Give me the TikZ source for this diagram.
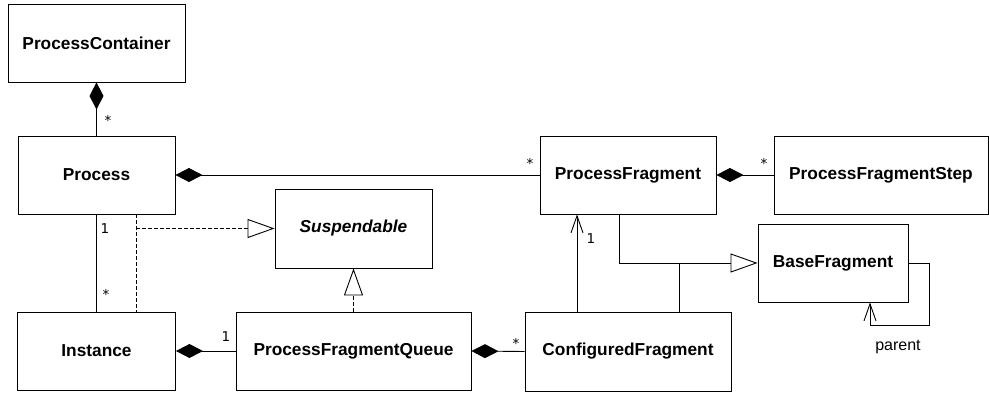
\documentclass[tikz,border=0pt]{standalone}
\usepackage{fontspec}
\setmainfont{Liberation Sans}
\newfontfamily\multfont{DejaVu Sans}
\usetikzlibrary{arrows.meta,calc}

\tikzset{
  cls/.style={draw=black, line width=0.9pt, fill=white, inner sep=0pt,
              font=\fontsize{17.3}{20}\selectfont\bfseries},
  link/.style={draw=black, line width=0.9pt},
  comp/.style={link, {Diamond[length=27pt,width=14pt,fill=black]}-},
  realize/.style={link, dash pattern=on 4pt off 2pt},
  realtip/.style={-{Triangle[open,length=27pt,width=19pt,fill=white]}},
  gentip/.style={-{Triangle[open,length=27pt,width=19pt,fill=white]}},
  navtip/.style={-{Straight Barb[length=17pt,width=12pt]}},
  mult/.style={inner sep=0pt, font=\multfont\fontsize{13.5}{15}\selectfont},
  role/.style={inner sep=0pt, font=\fontsize{16}{19}\selectfont}
}

\begin{document}
\begin{tikzpicture}[x=1pt,y=-1pt]
\useasboundingbox (0,0) rectangle (989,394);

% classes
\node[cls, minimum width=177pt, minimum height=78pt] (pc)   at (96.5,43)   {ProcessContainer};
\node[cls, minimum width=157pt, minimum height=78pt] (proc) at (96.5,175)  {Process};
\node[cls, minimum width=176pt, minimum height=78pt] (pf)   at (628,175)   {ProcessFragment};
\node[cls, minimum width=214pt, minimum height=78pt] (pfs)  at (881,175)   {ProcessFragmentStep};
\node[cls, minimum width=157pt, minimum height=79pt] (susp) at (353.5,228.5) {\itshape Suspendable};
\node[cls, minimum width=158pt, minimum height=78pt] (inst) at (96.5,351)  {Instance};
\node[cls, minimum width=235pt, minimum height=78pt] (pfq)  at (353.5,351) {ProcessFragmentQueue};
\node[cls, minimum width=206pt, minimum height=79pt] (cf)   at (628,351.5) {ConfiguredFragment};
\node[cls, minimum width=150pt, minimum height=78pt] (bf)   at (833,263)   {BaseFragment};

% compositions
\draw[comp] (pc.south) -- (proc.north);
\draw[comp] (proc.east) -- (pf.west);
\draw[comp] (pf.east) -- (pfs.west);
\draw[comp] (inst.east) -- (pfq.west);
\draw[comp] (pfq.east) -- (cf.west);

% Process -- Instance association
\draw[link] (proc.south) -- (proc.south |- inst.north);

% realizations of Suspendable
\coordinate (rtop) at ([xshift=39.5pt]proc.south);
\coordinate (rbot) at (rtop |- inst.north);
\coordinate (rjoin) at (rtop |- susp.west);
\draw[realize] (rtop) -- (rbot);
\draw[realize, realtip] (rjoin) -- (susp.west);
\draw[realize, realtip] (pfq.north) -- (susp.south);

% navigable association ConfiguredFragment -> ProcessFragment
\coordinate (navfoot) at ([xshift=-51pt]cf.north);
\draw[link, navtip] (navfoot) -- (navfoot |- pf.south);

% generalizations to BaseFragment
\coordinate (gpf) at ([xshift=-9pt]pf.south);
\coordinate (gcf) at ([xshift=51pt]cf.north);
\draw[link, gentip] (gpf) |- (bf.west);
\draw[link] (gcf) -- (gcf |- bf.west);

% self association "parent"
\draw[link, navtip] (bf.east) -| ++(21,62) -| ([xshift=37pt]bf.south);

% multiplicities and role
\node[mult] (m1) at (108,120) {*};
\node[mult] (m2) at (530,163) {*};
\node[mult] (m3) at (764,163) {*};
\node[mult] (m4) at (105,229) {1};
\node[mult] (m5) at (106,294) {*};
\node[mult] (m6) at (226,337) {1};
\node[mult] (m7) at (516,343) {*};
\node[mult] (m8) at (591,239) {1};
\node[role] (r1) at (898,347) {parent};
\end{tikzpicture}
\end{document}
